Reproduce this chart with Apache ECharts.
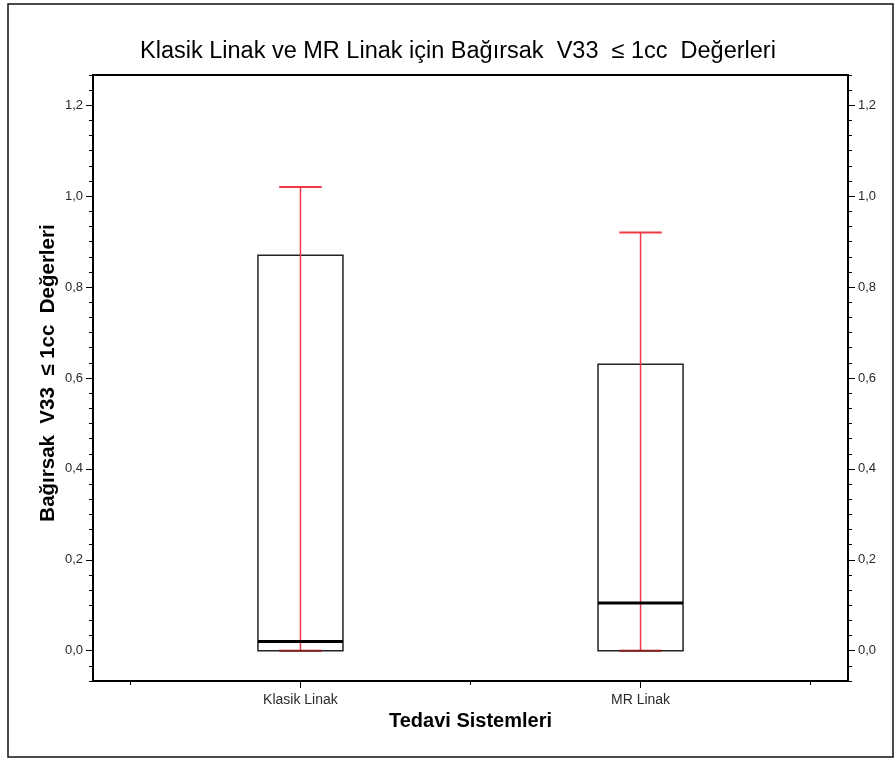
<!DOCTYPE html>
<html>
<head>
<meta charset="utf-8">
<script src="https://cdn.jsdelivr.net/npm/echarts@6/dist/echarts.min.js"></script>
<style>
  html, body { margin: 0; padding: 0; background: #fff; }
  #chart { width: 896px; height: 760px; }
</style>
</head>
<body>
<div id="chart"></div>
<script>
// Box-plot summary per treatment system (values in cc)
const categories = ['Klasik Linak', 'MR Linak'];
const whiskerLow = [0, 0];
const q1 = [0, 0];
const median = [0.02, 0.105];
const q3 = [0.87, 0.63];
const whiskerHigh = [1.02, 0.92];

// Y axis labels (major) and the finer tick step between them
const yTicks = [0, 0.2, 0.4, 0.6, 0.8, 1.0, 1.2];
const yMinorStep = 1 / 30;

const titleText = 'Klasik Linak ve MR Linak için Bağırsak  V33  ≤ 1cc  Değerleri';
const xName = 'Tedavi Sistemleri';
const yName = 'Bağırsak  V33  ≤ 1cc  Değerleri';

// Layout on a continuous x scale: each category sits on an odd slot
const slot = i => 2 * i + 1;
const xMin = -0.22, xMax = 4.22;
const yMin = -2 * yMinorStep, yMax = 1.2 + 2 * yMinorStep;

const yMinor = [];
for (let k = -2; k <= 38; k++) yMinor.push(k * yMinorStep);

const boxData = categories.map((c, i) =>
  [slot(i), whiskerLow[i], q1[i], median[i], q3[i], whiskerHigh[i]]);

const fmtY = v => v.toFixed(1).replace('.', ',');
const labelFont = 'Liberation Sans, Arial, sans-serif';

function yAxisMajor(position) {
  return {
    type: 'value', position, min: yMin, max: yMax, offset: 0,
    axisLine: { show: true, onZero: false, lineStyle: { color: '#000', width: 2 } },
    axisTick: { show: true, customValues: yTicks, length: 7, lineStyle: { color: '#000', width: 1 } },
    axisLabel: { show: true, customValues: yTicks, margin: 10, formatter: fmtY,
      color: '#2a2a2a', fontSize: 13, fontFamily: labelFont },
    splitLine: { show: false }
  };
}
function yAxisMinor(position) {
  return {
    type: 'value', position, min: yMin, max: yMax, offset: 0,
    axisLine: { show: false, onZero: false },
    axisTick: { show: true, customValues: yMinor, length: 4, lineStyle: { color: '#000', width: 1 } },
    axisLabel: { show: false },
    splitLine: { show: false }
  };
}

const chart = echarts.init(document.getElementById('chart'), null, { renderer: 'canvas' });

chart.setOption({
  animation: false,
  backgroundColor: '#fff',
  title: {
    text: titleText, left: 135, top: 35,
    textStyle: { fontFamily: labelFont, fontSize: 23.5, fontWeight: 'normal', color: '#000' }
  },
  graphic: [{
    type: 'rect', shape: { x: 8, y: 4, width: 885, height: 753 },
    style: { fill: 'none', stroke: '#111', lineWidth: 1.5 }, silent: true
  }],
  grid: {
    left: 93, right: 48, top: 75, bottom: 79,
    show: true, borderColor: '#000', borderWidth: 2, backgroundColor: '#fff'
  },
  xAxis: [{
    type: 'value', position: 'bottom', min: xMin, max: xMax,
    name: xName, nameLocation: 'middle', nameGap: 30,
    nameTextStyle: { fontFamily: labelFont, fontSize: 20, fontWeight: 'bold', color: '#000' },
    axisLine: { show: true, onZero: false, lineStyle: { color: '#000', width: 2 } },
    axisTick: { show: true, customValues: categories.map((c, i) => slot(i)), length: 7,
      lineStyle: { color: '#000', width: 1 } },
    axisLabel: { show: true, customValues: categories.map((c, i) => slot(i)), margin: 12,
      formatter: v => categories[Math.round((v - 1) / 2)],
      color: '#2a2a2a', fontSize: 14, fontFamily: labelFont },
    splitLine: { show: false }
  }, {
    type: 'value', position: 'bottom', min: xMin, max: xMax,
    axisLine: { show: false, onZero: false },
    axisTick: { show: true, customValues: [0, 2, 4], length: 4, lineStyle: { color: '#000', width: 1 } },
    axisLabel: { show: false },
    splitLine: { show: false }
  }],
  yAxis: [
    Object.assign(yAxisMajor('left'), {
      name: yName, nameLocation: 'middle', nameGap: 34, nameMoveOverlap: false,
      nameTextStyle: { fontFamily: labelFont, fontSize: 20.5, fontWeight: 'bold', color: '#000',
        padding: [0, 0, 0, 10] }
    }),
    yAxisMinor('left'),
    yAxisMajor('right'),
    yAxisMinor('right')
  ],
  series: [{
    type: 'custom',
    xAxisIndex: 0, yAxisIndex: 0,
    data: boxData,
    encode: { x: 0, y: [1, 2, 3, 4, 5] },
    renderItem: function (params, api) {
      const x = api.value(0);
      const lo = api.value(1), b1 = api.value(2), md = api.value(3), b3 = api.value(4), hi = api.value(5);
      const halfBox = 0.25, halfCap = 0.125;
      const pLL = api.coord([x - halfBox, b1]);
      const pUR = api.coord([x + halfBox, b3]);
      const pLo = api.coord([x, lo]);
      const pHi = api.coord([x, hi]);
      const capHiL = api.coord([x - halfCap, hi]), capHiR = api.coord([x + halfCap, hi]);
      const capLoL = api.coord([x - halfCap, lo]), capLoR = api.coord([x + halfCap, lo]);
      const mdL = api.coord([x - halfBox, md]), mdR = api.coord([x + halfBox, md]);
      return {
        type: 'group',
        children: [
          { type: 'rect',
            shape: { x: pLL[0], y: pUR[1], width: pUR[0] - pLL[0], height: pLL[1] - pUR[1] },
            style: { fill: '#fff', stroke: '#222', lineWidth: 1.5 } },
          { type: 'line', shape: { x1: pLo[0], y1: pLo[1], x2: pHi[0], y2: pHi[1] },
            style: { stroke: '#f03a48', lineWidth: 1.5 } },
          { type: 'line', shape: { x1: capHiL[0], y1: capHiL[1], x2: capHiR[0], y2: capHiR[1] },
            style: { stroke: '#f03a48', lineWidth: 2 } },
          { type: 'line', shape: { x1: capLoL[0], y1: capLoL[1], x2: capLoR[0], y2: capLoR[1] },
            style: { stroke: '#8b1c1c', lineWidth: 2 } },
          { type: 'line', shape: { x1: mdL[0], y1: mdL[1], x2: mdR[0], y2: mdR[1] },
            style: { stroke: '#000', lineWidth: 3 } }
        ]
      };
    }
  }]
});
</script>
</body>
</html>
